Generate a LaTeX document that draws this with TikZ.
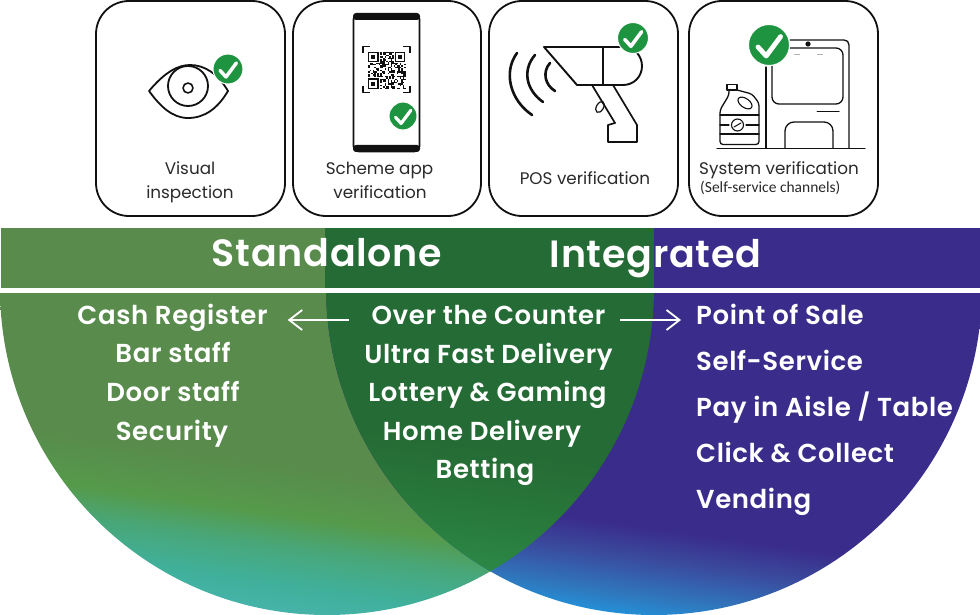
\documentclass[tikz,border=0pt]{standalone}
\usepackage{fontspec}
\setmainfont{Poppins}
\newfontfamily\condfont{Carlito}
\newfontfamily\itemfont{Poppins}[BoldFont={Poppins SemiBold},LetterSpace=2.3]
\newfontfamily\headfont{Poppins}[BoldFont={Poppins SemiBold},LetterSpace=2]
\usetikzlibrary{arrows.meta}
\definecolor{barL}{HTML}{588B4C}
\definecolor{barM}{HTML}{256B35}
\definecolor{barR}{HTML}{3A2C8A}
\definecolor{tealA}{HTML}{45B3A8}
\definecolor{tealB}{HTML}{40B09B}
\definecolor{tealC}{HTML}{48A77A}
\definecolor{tealD}{HTML}{559A4B}
\definecolor{blueA}{HTML}{2196DD}
\definecolor{blueB}{HTML}{2F78BE}
\definecolor{blueC}{HTML}{3A4C9E}
\definecolor{midA}{HTML}{2C8A48}
\definecolor{midB}{HTML}{287A3B}
\definecolor{okgreen}{HTML}{1E9440}
\definecolor{inkc}{HTML}{111111}
\definecolor{labelc}{HTML}{2A2A2A}
\pgfdeclareverticalshading{leftgrad}{100bp}{color(0bp)=(tealA); color(39.7bp)=(tealA); color(41.25bp)=(tealB); color(43.56bp)=(tealC); color(45.6bp)=(tealD); color(48.75bp)=(barL); color(100bp)=(barL)}
\pgfdeclareverticalshading{rightgrad}{100bp}{color(0bp)=(blueA); color(39.7bp)=(blueA); color(41.25bp)=(blueB); color(43.56bp)=(blueC); color(45.6bp)=(barR); color(100bp)=(barR)}
\pgfdeclareverticalshading{midgrad}{100bp}{color(0bp)=(midA); color(42bp)=(midA); color(45.6bp)=(midB); color(50bp)=(barM); color(100bp)=(barM)}
\tikzset{
  card/.style={draw=inkc,line width=1.8pt,rounded corners=33pt,fill=white},
  ink/.style={draw=inkc,line width=1.6pt,line cap=round,line join=round},
  thick ink/.style={draw=inkc,line width=2.6pt,line cap=round,line join=round},
  cardlabel/.style={anchor=base,inner sep=0pt,text=labelc,font=\fontsize{16.8}{18}\selectfont},
  headtext/.style={anchor=base,inner sep=0pt,text=white,font=\headfont\fontsize{38}{40}\selectfont\bfseries},
  item/.style={anchor=base,inner sep=0pt,text=white,font=\itemfont\fontsize{26}{28}\selectfont\bfseries},
  ritem/.style={item,anchor=base west},
  flowarrow/.style={draw=white,line width=1.8pt,-{Straight Barb[length=13pt,width=20pt,line width=1.8pt]}},
}
\newcommand{\okbadge}[4]{%
  \node[circle,fill=okgreen,draw=white,line width=1pt,inner sep=0pt,minimum size=#4*2pt+1pt] (#1) at (#2,#3) {};
  \draw[white,line width=#4*0.24pt,line cap=round,line join=round]
    ([shift={(-#4*0.55pt,-#4*0.10pt)}]#1.center) -- ([shift={(-#4*0.14pt,-#4*0.55pt)}]#1.center) -- ([shift={(#4*0.58pt,#4*0.42pt)}]#1.center);
}
\begin{document}
\begin{tikzpicture}[x=1pt,y=-1pt]
\fill[white] (0,0) rectangle (980,615);
\useasboundingbox (0,0) rectangle (980,615);

% ---- bar ----
\fill[barL] (1,228) rectangle (326,288);
\fill[barM] (325,228) rectangle (655,288);
\fill[barR] (654,228) rectangle (980,288);

% ---- circles ----
\begin{scope}
  \clip (0,293) rectangle (980,615);
  \begin{scope}
    \clip (327,288) circle [radius=327];
    \shade[shading=leftgrad,shading angle=-8] (-73,50) rectangle (727,850);
  \end{scope}
  \begin{scope}
    \clip (654,287) circle [radius=328];
    \shade[shading=rightgrad,shading angle=-8] (200,50) rectangle (1000,850);
  \end{scope}
  \begin{scope}
    \clip (327,288) circle [radius=327];
    \clip (654,287) circle [radius=328];
    \shade[shading=midgrad,shading angle=-8] (90,50) rectangle (890,850);
  \end{scope}
\end{scope}

% ---- cards ----
\node[card,minimum width=189pt,minimum height=215pt,inner sep=0pt] (c1) at (190.5,108.5) {};
\node[card,minimum width=188pt,minimum height=215pt,inner sep=0pt] (c2) at (387,108.5) {};
\node[card,minimum width=189pt,minimum height=215pt,inner sep=0pt] (c3) at (583.5,108.5) {};
\node[card,minimum width=189pt,minimum height=215pt,inner sep=0pt] (c4) at (783.5,108.5) {};

% ---- eye ----
\draw[ink,line width=1.8pt] (149,91) .. controls (165,72) and (178,65) .. (190,65) .. controls (205,65) and (218,74) .. (228,91) .. controls (218,108) and (205,118) .. (188,118) .. controls (172,118) and (160,106) .. (149,91) -- cycle;
\draw[ink,line width=1.8pt] (188,86) circle [radius=20];
\draw[ink,line width=1.6pt] (188,88) circle [radius=5];
\okbadge{b1}{228}{69}{14.5}

% ---- phone ----
\draw[ink,rounded corners=5pt] (353.5,14) rectangle (419.5,151.5);
\fill[inkc,rounded corners=3pt] (353,13) -- (420,13) -- (420,20) -- (353,20) -- cycle;
\fill[inkc,rounded corners=3pt] (353,145) -- (420,145) -- (420,152) -- (353,152) -- cycle;
\draw[ink,line cap=butt,line width=1.5pt] (363,53) -- (363,46.5) -- (370,46.5);
\draw[ink,line cap=butt,line width=1.5pt] (403,46.5) -- (410,46.5) -- (410,53);
\draw[ink,line cap=butt,line width=1.5pt] (363,86) -- (363,92.5) -- (370,92.5);
\draw[ink,line cap=butt,line width=1.5pt] (403,92.5) -- (410,92.5) -- (410,86);
\pgfmathsetseed{11}
\foreach \i in {0,...,24}{\foreach \j in {0,...,24}{
  \pgfmathparse{rnd>0.5?1:0}
  \ifnum\pgfmathresult=1\relax
    \fill[inkc] (368+\i*1.5,52+\j*1.5) rectangle (369.5+\i*1.5,53.5+\j*1.5);
  \fi}}
\foreach \qx/\qy in {368/52,394.5/52,368/78.5}{
  \fill[white] (\qx-1,\qy-1) rectangle (\qx+11.5,\qy+11.5);
  \draw[inkc,line width=1.4pt] (\qx+.7,\qy+.7) rectangle (\qx+9.8,\qy+9.8);
  \fill[inkc] (\qx+3.3,\qy+3.3) rectangle (\qx+7.2,\qy+7.2);
}
\okbadge{b2}{403}{116}{13.5}

% ---- scanner ----
\draw[ink,line width=1.9pt] (544,47) -- (623,47) .. controls (634,47) and (642,55.5) .. (642,66) .. controls (642,76.5) and (634,85) .. (623,85) -- (577,85) -- cycle;
\draw[ink,line width=1.7pt] (603,47) -- (603,85);
\draw[ink,line width=1.7pt] (592,85) -- (615,123) -- (608,125) -- (608,142) -- (637,142) -- (637,125) -- (613,85);
\draw[ink,line width=1.2pt,rotate around={60:(600,107)}] (600,107) ellipse [x radius=6,y radius=3.5];
\draw[thick ink] (532,115) .. controls (510,100) and (503,72) .. (517,53);
\draw[thick ink] (543,102) .. controls (526,90) and (522,70) .. (535,55);
\draw[thick ink] (555,91) .. controls (545,85) and (542,72) .. (550,63);
\okbadge{b3}{633}{38}{15}

% ---- vending machine ----
\draw[ink,line width=1.2pt] (717,148.5) -- (865,148.5);
\draw[ink,line width=1.3pt] (766,67) -- (766,148);
\draw[ink,line width=1.3pt] (790,40) -- (844,40) .. controls (847,40) and (849,42) .. (849,45) -- (849,148);
\draw[ink,line width=1.3pt,rounded corners=7pt] (772,66) -- (772,104) -- (843,104) -- (843,48) -- (790,48);
\fill[inkc] (808,44) circle [radius=2.6];
\draw[ink,line width=1pt] (817,112) -- (839,112);
\draw[ink,line width=1.3pt,rounded corners=9pt] (785,148) -- (785,122) -- (833,122) -- (833,148);
\draw[gray!60,line width=.6pt] (794,54) -- (800,54) (817,54) -- (823,54);
% bottle
\draw[ink,line width=1.3pt] (727,84.5) rectangle (737,90);
\draw[ink,line width=1.3pt,rounded corners=3pt] (729,90) -- (729,95) -- (720,110) -- (720,144.5) -- (759,144.5) -- (759,103) -- (752,94) -- (737,90);
\draw[ink,line width=1.1pt,rotate around={-35:(745,103)}] (745,103) ellipse [x radius=8,y radius=4.5];
\draw[ink,line width=1.1pt] (720,115) -- (759,115) (720,125) -- (729,125) (746,125) -- (759,125) (720,134) -- (759,134);
\draw[ink,line width=1.1pt] (737.5,125) circle [radius=6];
\draw[ink,line width=1pt] (734,127) -- (741,123);
\okbadge{b4}{769}{45}{20}

% ---- card labels ----
\node[cardlabel] (l1a) at (190,175) {Visual};
\node[cardlabel] (l1b) at (190,198) {inspection};
\node[cardlabel] (l2a) at (379.5,175) {Scheme app};
\node[cardlabel] (l2b) at (380,198) {verification};
\node[cardlabel] (l3) at (585,185) {POS verification};
\node[cardlabel] (l4a) at (779,175) {System verification};
\node[cardlabel,anchor=base west,font=\condfont\fontsize{15.5}{17}\selectfont] (l4b) at (700,193) {(Self-service channels)};

% ---- headings ----
\node[headtext] (hs) at (327,266) {Standalone};
\node[headtext] (hi) at (655.5,267) {Integrated};
\fill[white] (0,288) rectangle (980,293);

% ---- lists ----
\node[item] (cash) at (172.5,324) {Cash Register};
\node[item] at (173,362.5) (bar) {Bar staff};
\node[item] at (173,401) (door) {Door staff};
\node[item] at (172,440) (sec) {Security};

\node[item] (otc) at (488.5,324) {Over the Counter};
\node[item] (ufd) at (488.5,363) {Ultra Fast Delivery};
\node[item] (lot) at (487.5,401) {Lottery \& Gaming};
\node[item] (hom) at (482,440) {Home Delivery};
\node[item] (bet) at (485,478) {Betting};

\node[ritem] (pos) at (696,324) {Point of Sale};
\node[ritem] (ss) at (696,370) {Self-Service};
\node[ritem] (pay) at (696,416) {Pay in Aisle / Table};
\node[ritem] (cc) at (696,462) {Click \& Collect};
\node[ritem] (ven) at (696,508) {Vending};

% ---- arrows ----
\draw[flowarrow] ([yshift=4pt]otc.base west) ++(-23pt,0) coordinate (al) ([yshift=4pt]cash.base east) ++(20pt,0) coordinate (ar) (al) -- (ar);
\draw[flowarrow] ([yshift=4pt]otc.base east) ++(15pt,0) coordinate (bl) ([yshift=4pt]pos.base west) ++(-15pt,0) coordinate (br) (bl) -- (br);
\end{tikzpicture}
\end{document}
